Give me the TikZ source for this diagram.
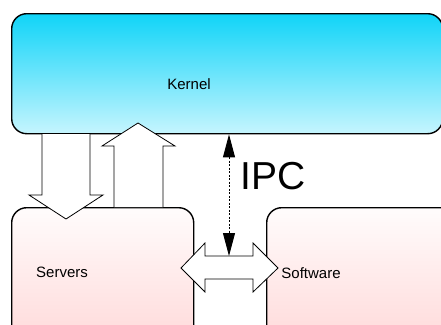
\documentclass[tikz,border=0pt]{standalone}
\usepackage{fontspec}
\setmainfont{Liberation Sans}
\usetikzlibrary{arrows.meta,positioning}
\definecolor{kerneltop}{RGB}{16,212,248}
\definecolor{kernelbot}{RGB}{198,245,254}
\definecolor{boxtop}{RGB}{255,252,252}
\definecolor{boxbot}{RGB}{255,214,214}

\begin{document}
\begin{tikzpicture}[x=1pt,y=-1pt,
  layer/.style={draw,line width=1.4pt,rounded corners=15pt,anchor=north west,inner sep=0pt},
  fatarrow/.style={draw,fill=white,line width=0.8pt,line join=miter},
  label/.style={font=\fontsize{15}{18}\selectfont}]
  \useasboundingbox (0,0) rectangle (441,324);
  \clip (0,0) rectangle (441,324);
  % boxes
  \node[layer,top color=kerneltop,bottom color=kernelbot,minimum width=431pt,minimum height=120pt] (kernel) at (11,13) {};
  \node[layer,top color=boxtop,bottom color=boxbot,minimum width=182pt,minimum height=150pt] (servers) at (11,207) {};
  \node[layer,top color=boxtop,bottom color=boxbot,minimum width=200pt,minimum height=150pt] (software) at (266,207) {};
  \node[label] (kernel-text) at (189,84) {Kernel};
  \node[label] (servers-text) at (62,272) {Servers};
  \node[label] (software-text) at (311,273) {Software};
  % fat arrows between kernel and servers
  \draw[fatarrow] (42,134) -- (42,195) -- (29,195) -- (66,219) -- (103,195) -- (90,195) -- (90,134);
  \draw[fatarrow] (114,207) -- (114,146) -- (102,146) -- (138,123) -- (175,146) -- (163,146) -- (163,207);
  \draw[fatarrow] (181,268) -- (205,243) -- (205,256) -- (253,256) -- (253,243) -- (278,268)
    -- (253,292) -- (253,279) -- (205,279) -- (205,292) -- cycle;
  % IPC
  \coordinate (ipc-low) at (229,256);
  \draw[{Triangle[length=23pt,width=12pt]}-{Triangle[length=23pt,width=12pt]},line width=0.9pt,dash pattern=on 2pt off 1.5pt]
    (kernel.south -| ipc-low) -- (ipc-low);
  \node[font=\fontsize{39}{44}\selectfont] (ipc) at (273,176) {IPC};
\end{tikzpicture}
\end{document}
